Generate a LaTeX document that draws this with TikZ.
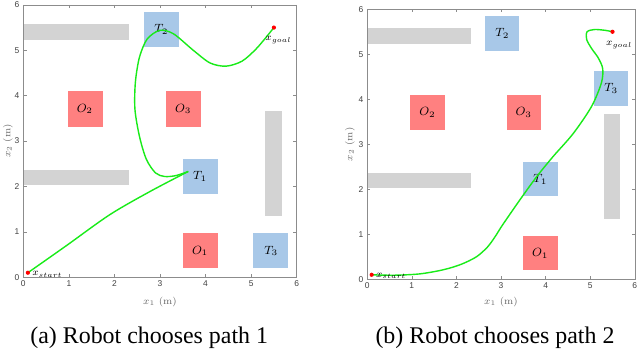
\RequirePackage{fix-cm}
\documentclass[tikz,border=0pt]{standalone}
\usepackage{amsmath,amssymb}
\usepackage{tikz}
\usepackage{xcolor}
\usepackage{fontspec}
\newfontfamily\tickfont{Liberation Sans}
\newfontfamily\capfont{Liberation Serif}
\definecolor{obstred}{RGB}{255,128,128}
\definecolor{tgtblue}{RGB}{168,200,232}
\definecolor{wallgray}{RGB}{211,211,211}
\definecolor{pathgreen}{RGB}{25,235,25}

\begin{document}
\begin{tikzpicture}[x=1cm,y=1cm,
  obst/.style={fill=obstred},
  tgt/.style={fill=tgtblue},
  wall/.style={fill=wallgray},
  lbl/.style={font=\fontsize{8.5}{10}\selectfont},
  ticklbl/.style={font=\tickfont\fontsize{6}{7}\selectfont, text=black!75, inner sep=1pt},
  axlbl/.style={font=\fontsize{7}{8}\selectfont, text=black!60},
  frame/.style={draw=black!45, line width=0.4pt},
  robotpath/.style={draw=pathgreen, line width=1pt},
  endpt/.style={fill=red, circle, inner sep=0pt, minimum size=3pt},
  ptlbl/.style={font=\fontsize{7}{8}\selectfont, inner sep=1pt},
  caption/.style={font=\capfont\fontsize{17}{20}\selectfont}]
\useasboundingbox (0,0) rectangle (16,8.75);

% (a) path 1
\begin{scope}[shift={(0.583,1.818)}, x=1.139cm, y=1.135cm]
\fill[wall] (0,5.23) rectangle (2.33,5.58);
\fill[wall] (0,2.03) rectangle (2.33,2.36);
\fill[wall] (5.3,1.34) rectangle (5.67,3.67);
\fill[obst] (3.5,0.2) rectangle (4.27,0.97);
\node[lbl] (O1a) at (3.88,0.58) {$O_1$};
\fill[obst] (0.97,3.32) rectangle (1.74,4.1);
\node[lbl] (O2a) at (1.35,3.71) {$O_2$};
\fill[obst] (3.13,3.32) rectangle (3.89,4.1);
\node[lbl] (O3a) at (3.51,3.71) {$O_3$};
\fill[tgt] (3.5,1.84) rectangle (4.27,2.6);
\node[lbl] (T1a) at (3.88,2.22) {$T_1$};
\fill[tgt] (2.65,5.08) rectangle (3.41,5.85);
\node[lbl] (T2a) at (3.03,5.46) {$T_2$};
\fill[tgt] (5.05,0.2) rectangle (5.82,0.97);
\node[lbl] (T3a) at (5.44,0.58) {$T_3$};
\draw[frame] (0,0) rectangle (6,6);
\foreach \k in {0,...,6} {
  \draw[frame] (\k,0) -- (\k,0.07) (\k,6) -- (\k,5.93) (0,\k) -- (0.07,\k) (6,\k) -- (5.93,\k);
  \node[ticklbl, below] (xta\k) at (\k,-0.03) {\k};
  \node[ticklbl, left] (yta\k) at (-0.05,\k) {\k};
}
\node[axlbl] (xla) at (3,-0.54) {$x_1$ (m)};
\node[axlbl, rotate=90] (yla) at (-0.34,3) {$x_2$ (m)};
\coordinate (sa) at (0.1,0.1);
\coordinate (ka) at (3.62,2.33);
\coordinate (ga) at (5.5,5.5);
\draw[robotpath] plot[smooth, tension=0.5] coordinates {(sa) (0.95,0.7) (1.9,1.38) (2.8,1.9) (ka)};
\draw[robotpath] plot[smooth] coordinates {(ka) (3.35,2.24) (3.1,2.22) (2.9,2.3) (2.7,2.6) (2.55,3.1) (2.45,3.7) (2.46,4.3) (2.55,4.85) (2.72,5.25) (3.0,5.44) (3.3,5.36) (3.73,5.0) (4.1,4.72) (4.45,4.65) (4.8,4.76) (5.1,5.02) (5.34,5.3) (ga)};
\node[endpt] (sdota) at (sa) {};
\node[endpt] (gdota) at (ga) {};
\node[ptlbl, anchor=west] (sla) at (0.16,0.06) {$x_{start}$};
\node[ptlbl] (gla) at (5.6,5.22) {$x_{goal}$};
\end{scope}

% (b) path 2
\begin{scope}[shift={(9.18,1.768)}, x=1.115cm, y=1.125cm]
\fill[wall] (0,5.23) rectangle (2.33,5.58);
\fill[wall] (0,2.03) rectangle (2.33,2.36);
\fill[wall] (5.3,1.34) rectangle (5.67,3.67);
\fill[obst] (3.5,0.2) rectangle (4.27,0.97);
\node[lbl] (O1b) at (3.88,0.58) {$O_1$};
\fill[obst] (0.97,3.32) rectangle (1.74,4.1);
\node[lbl] (O2b) at (1.35,3.71) {$O_2$};
\fill[obst] (3.13,3.32) rectangle (3.89,4.1);
\node[lbl] (O3b) at (3.51,3.71) {$O_3$};
\fill[tgt] (3.5,1.84) rectangle (4.27,2.6);
\node[lbl] (T1b) at (3.88,2.22) {$T_1$};
\fill[tgt] (2.65,5.08) rectangle (3.41,5.85);
\node[lbl] (T2b) at (3.03,5.46) {$T_2$};
\fill[tgt] (5.08,3.85) rectangle (5.85,4.63);
\node[lbl] (T3b) at (5.47,4.24) {$T_3$};
\draw[frame] (0,0) rectangle (6,6);
\foreach \k in {0,...,6} {
  \draw[frame] (\k,0) -- (\k,0.07) (\k,6) -- (\k,5.93) (0,\k) -- (0.07,\k) (6,\k) -- (5.93,\k);
  \node[ticklbl, below] (xtb\k) at (\k,-0.03) {\k};
  \node[ticklbl, left] (ytb\k) at (-0.05,\k) {\k};
}
\node[axlbl] (xlb) at (3,-0.5) {$x_1$ (m)};
\node[axlbl, rotate=90] (ylb) at (-0.39,3) {$x_2$ (m)};
\coordinate (sb) at (0.1,0.1);
\coordinate (gb) at (5.5,5.5);
\draw[robotpath] plot[smooth] coordinates {(sb) (0.6,0.09) (1.18,0.12) (1.7,0.21) (2.1,0.33) (2.45,0.5) (2.7,0.72) (2.87,0.95) (3.03,1.2) (3.42,1.76) (3.8,2.28) (4.17,2.73) (4.62,3.24) (5.03,3.84) (5.25,4.36) (5.28,4.68) (5.18,4.92) (5.03,5.13) (4.92,5.33) (4.93,5.5) (5.1,5.55) (5.35,5.53) (gb)};
\node[endpt] (sdotb) at (sb) {};
\node[endpt] (gdotb) at (gb) {};
\node[ptlbl, anchor=west] (slb) at (0.16,0.08) {$x_{start}$};
\node[ptlbl] (glb) at (5.65,5.21) {$x_{goal}$};
\end{scope}

\node[caption] (capa) at (3.73,0.3) {(a) Robot chooses path 1};
\node[caption] (capb) at (12.375,0.3) {(b) Robot chooses path 2};
\end{tikzpicture}
\end{document}
